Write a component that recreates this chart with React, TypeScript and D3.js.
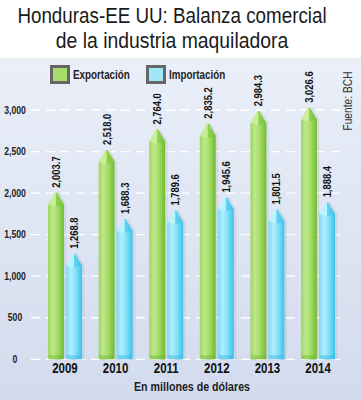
import React from "react";
import * as d3 from "d3";

const years = ["2009", "2010", "2011", "2012", "2013", "2014"];
const exportacion = [2003.7, 2518.0, 2764.0, 2835.2, 2984.3, 3026.6];
const importacion = [1268.8, 1688.3, 1789.6, 1945.6, 1801.5, 1888.4];
const yTicks = [0, 500, 1000, 1500, 2000, 2500, 3000];
const seriesNames = ["Exportación", "Importación"];
const titleLines = ["Honduras-EE UU: Balanza comercial", "de la industria maquiladora"];

const W = 361;
const H = 400;
const FONT = "'Liberation Sans', Arial, sans-serif";
const NARROW = 0.82;

type NTProps = {
  x: number;
  y: number;
  rotate?: number;
  anchor?: "start" | "middle" | "end";
  size: number;
  weight?: string;
  fill?: string;
  dy?: string;
  sx?: number;
  children: React.ReactNode;
};

function NText({ x, y, rotate = 0, anchor = "start", size, weight = "normal", fill = "#111", dy, sx = NARROW, children }: NTProps) {
  return (
    <text
      transform={`translate(${x},${y}) rotate(${rotate}) scale(${sx},1)`}
      textAnchor={anchor}
      fontFamily={FONT}
      fontSize={size}
      fontWeight={weight}
      fill={fill}
      dy={dy}
    >
      {children}
    </text>
  );
}

export default function App() {
  const y = d3.scaleLinear().domain([0, 3000]).range([359.3, 110]);
  const x0 = d3.scaleBand<string>().domain(years).range([32.8, 350.2]).paddingInner(0.328).paddingOuter(0.3);
  const x1 = d3.scaleBand<string>().domain(seriesNames).range([0, x0.bandwidth()]).paddingInner(0.12);
  const fmtTick = d3.format(",");
  const fmtVal = d3.format(",.1f");
  const tipH = 12;

  const series = [
    { name: seriesNames[0], values: exportacion, grad: "gGreen", tip: "#cdf09c", tipDark: "#7cc83a", base: "#6db52c", legend: "#a6dd6c" },
    { name: seriesNames[1], values: importacion, grad: "gBlue", tip: "#c0f3fd", tipDark: "#44c6ec", base: "#33b6e0", legend: "#a2e6f9" },
  ];

  const barPath = (xl: number, w: number, v: number) => {
    const xr = xl + w;
    const xc = xl + w / 2;
    const yt = y(v);
    const ys = yt + tipH;
    const y0 = y(0);
    return `M${xl},${y0}L${xl},${ys}L${xc - 1},${yt}L${xc + 1},${yt}L${xr},${ys}L${xr},${y0}Z`;
  };

  return (
    <svg width={W} height={H} style={{ position: "absolute", left: 0, top: 0, background: "#fff" }}>
      <defs>
        <linearGradient id="panel" x1="0" y1="0" x2="0" y2="1">
          <stop offset="0" stopColor="#eaeff8" />
          <stop offset="1" stopColor="#d2dbee" />
        </linearGradient>
        <linearGradient id="gGreen" x1="0" y1="0" x2="1" y2="0">
          <stop offset="0" stopColor="#9fd661" />
          <stop offset="0.3" stopColor="#bfe88a" />
          <stop offset="0.6" stopColor="#a5db68" />
          <stop offset="1" stopColor="#6ebd2f" />
        </linearGradient>
        <linearGradient id="gBlue" x1="0" y1="0" x2="1" y2="0">
          <stop offset="0" stopColor="#7cdaf5" />
          <stop offset="0.3" stopColor="#b0eefc" />
          <stop offset="0.6" stopColor="#86e0f8" />
          <stop offset="1" stopColor="#3bc2ea" />
        </linearGradient>
      </defs>
      <rect x={0} y={58} width={W} height={H - 58} fill="url(#panel)" />

      {titleLines.map((t, i) => (
        <NText key={t} x={172} y={23 + i * 24.5} anchor="middle" size={22} sx={i === 0 ? 0.855 : 0.88} fill="#1a1a1a">
          {t}
        </NText>
      ))}

      {/* legend */}
      {series.map((s, i) => {
        const lx = i === 0 ? 50 : 146;
        return (
          <g key={s.name}>
            <rect x={lx + 1.5} y={66.5} width={17} height={16} fill={s.legend} stroke="#666" strokeWidth={3} />
            <NText x={lx + 23} y={78.5} size={12} weight="bold" fill="#222">
              {s.name}
            </NText>
          </g>
        );
      })}

      <NText x={352} y={101} rotate={-90} anchor="middle" size={12.5} fill="#333">
        Fuente: BCH
      </NText>

      {/* gridlines */}
      {yTicks.map((t) => (
        <g key={t}>
          <line x1={31} x2={342} y1={y(t)} y2={y(t)} stroke="#ffffff" strokeWidth={1.3} strokeDasharray="9 6" />
          <NText x={15} y={y(t)} dy="0.35em" anchor="middle" size={10.5} weight="bold" fill="#222">
            {fmtTick(t)}
          </NText>
        </g>
      ))}

      {/* bars */}
      {years.map((yr, gi) => (
        <g key={yr}>
          {series.map((s) => {
            const xl = (x0(yr) ?? 0) + (x1(s.name) ?? 0);
            const w = x1.bandwidth();
            const v = s.values[gi];
            const xc = xl + w / 2;
            const yt = y(v);
            const ys = yt + tipH;
            const y0 = y(0);
            return (
              <g key={s.name}>
                <path d={barPath(xl + 2.5, w, v)} fill="#8a93a8" opacity={0.18} />
                <path d={barPath(xl, w, v)} fill={`url(#${s.grad})`} />
                <path d={`M${xl},${ys}L${xc - 1},${yt}L${xc},${yt}L${xc},${ys + 2}Z`} fill={s.tip} opacity={0.85} />
                <path d={`M${xc},${yt}L${xc + 1},${yt}L${xl + w},${ys}L${xc},${ys + 2}Z`} fill={s.tipDark} opacity={0.6} />
                <path d={`M${xl},${y0 - 4}L${xl + w},${y0 - 4}L${xl + w - 2},${y0}L${xl + 2},${y0}Z`} fill={s.base} opacity={0.45} />
                <NText x={xc} y={yt - 5} rotate={-90} dy="0.35em" size={11.5} weight="bold" fill="#111">
                  {fmtVal(v)}
                </NText>
              </g>
            );
          })}
          <NText x={(x0(yr) ?? 0) + x0.bandwidth() / 2} y={373} anchor="middle" size={14} weight="bold" fill="#111">
            {yr}
          </NText>
        </g>
      ))}

      <NText x={192} y={391} anchor="middle" size={13} weight="bold" fill="#222">
        En millones de dólares
      </NText>
    </svg>
  );
}
